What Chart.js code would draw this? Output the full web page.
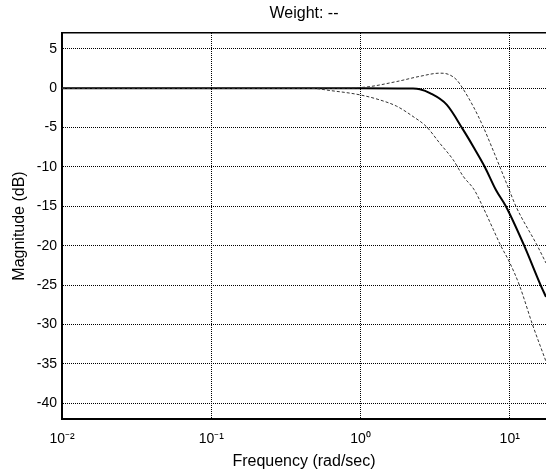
<!DOCTYPE html>
<html><head><meta charset="utf-8">
<script src="https://cdn.jsdelivr.net/npm/chart.js@4.4.1/dist/chart.umd.min.js"></script>
<style>html,body{margin:0;padding:0;background:#fff;overflow:hidden}#wrap{width:546px;height:471px}</style>
</head><body><div id="wrap"><canvas id="c" width="546" height="471"></canvas></div>
<script>
const chartTitle = 'Weight: --';
const xLabel = 'Frequency (rad/sec)';
const yLabel = 'Magnitude (dB)';
const xTickValues = [0.01, 0.1, 1, 10];
const xTickLabels = ['10⁻²', '10⁻¹', '10⁰', '10¹'];
const yTickValues = [-40, -35, -30, -25, -20, -15, -10, -5, 0, 5];
const xMin = 0.01, xMax = 17.5, yMin = -42, yMax = 7;

const nominalFreq = [0.01, 0.1, 1, 2.25, 2.5, 2.92, 3.78, 4.88, 5.69, 6.81, 8.07, 9.42, 12.5, 16.1, 17.5];
const nominalMag  = [0, 0, 0, -0.05, -0.15, -0.63, -2.1, -5.3, -7.4, -10, -12.9, -15, -20, -25, -26.5];
const upperFreq = [0.01, 0.1, 0.676, 1.04, 1.75, 2.5, 3.40, 3.86, 4.41, 4.88, 5.69, 6.64, 7.55, 8.59, 9.91, 11.0, 15.3, 17.5];
const upperMag  = [0, 0, 0, 0.1, 0.84, 1.5, 1.9, 1.77, 1.05, -0.13, -2.3, -4.9, -7.4, -10, -12.9, -15, -20, -22.2];
const lowerFreq = [0.01, 0.1, 0.458, 0.624, 0.99, 1.35, 1.75, 2.25, 2.77, 3.40, 4.18, 4.88, 5.78, 6.58, 7.74, 8.71, 9.91, 11.6, 14.2, 17.5];
const lowerMag  = [0, 0, 0, -0.3, -0.85, -1.5, -2.3, -3.6, -4.9, -7.0, -9.1, -11.2, -12.9, -15, -17.9, -20, -22, -25, -30, -34.7];

const pts = (f, m) => f.map((x, i) => ({x: x, y: m[i]}));
const tickFont = {family: 'Arial, "Liberation Sans", sans-serif', size: 14};
const labelFont = {family: 'Arial, "Liberation Sans", sans-serif', size: 16};

new Chart(document.getElementById('c'), {
  type: 'line',
  data: {datasets: [
    {data: pts(lowerFreq, lowerMag), borderColor: '#333', borderWidth: 1, borderDash: [3, 2], pointRadius: 0, fill: false, cubicInterpolationMode: 'monotone'},
    {data: pts(upperFreq, upperMag), borderColor: '#333', borderWidth: 1, borderDash: [3, 2], pointRadius: 0, fill: false, cubicInterpolationMode: 'monotone'},
    {data: pts(nominalFreq, nominalMag), borderColor: '#000', borderWidth: 2, pointRadius: 0, fill: false, cubicInterpolationMode: 'monotone'}
  ]},
  options: {
    responsive: false, animation: false, devicePixelRatio: 1,
    layout: {padding: 0},
    plugins: {legend: {display: false}, tooltip: {enabled: false}},
    scales: {
      x: {
        type: 'logarithmic', position: 'bottom', min: xMin, max: xMax,
        afterBuildTicks: s => { s.ticks = xTickValues.map(v => ({value: v})); },
        afterFit: s => { s.height = 52; },
        grid: {color: '#000', lineWidth: 1, drawTicks: false},
        border: {display: true, color: '#000', width: 2, dash: [1, 1]},
        ticks: {color: '#000', font: tickFont, padding: 12, maxRotation: 0, autoSkip: false,
                callback: (v, i) => xTickLabels[i]},
        title: {display: true, text: xLabel, color: '#000', font: labelFont, padding: {top: 0, bottom: 0}}
      },
      x2: {
        type: 'linear', position: 'top',
        afterFit: s => { s.height = 33; },
        grid: {color: 'rgba(0,0,0,0)', drawTicks: false},
        border: {display: true, color: '#000', width: 1.5},
        ticks: {display: false},
        title: {display: true, text: chartTitle, color: '#000', font: labelFont, padding: {top: 4, bottom: 0}}
      },
      y: {
        min: yMin, max: yMax,
        afterBuildTicks: s => { s.ticks = yTickValues.map(v => ({value: v})); },
        afterFit: s => { s.width = 62; },
        grid: {color: '#000', lineWidth: 1, drawTicks: false},
        border: {display: true, color: '#000', width: 2, dash: [1, 1]},
        ticks: {color: '#000', font: tickFont, padding: 5, callback: v => String(v)},
        title: {display: true, text: yLabel, color: '#000', font: labelFont, padding: {top: 10, bottom: 0}}
      }
    }
  }
});
</script></body></html>
